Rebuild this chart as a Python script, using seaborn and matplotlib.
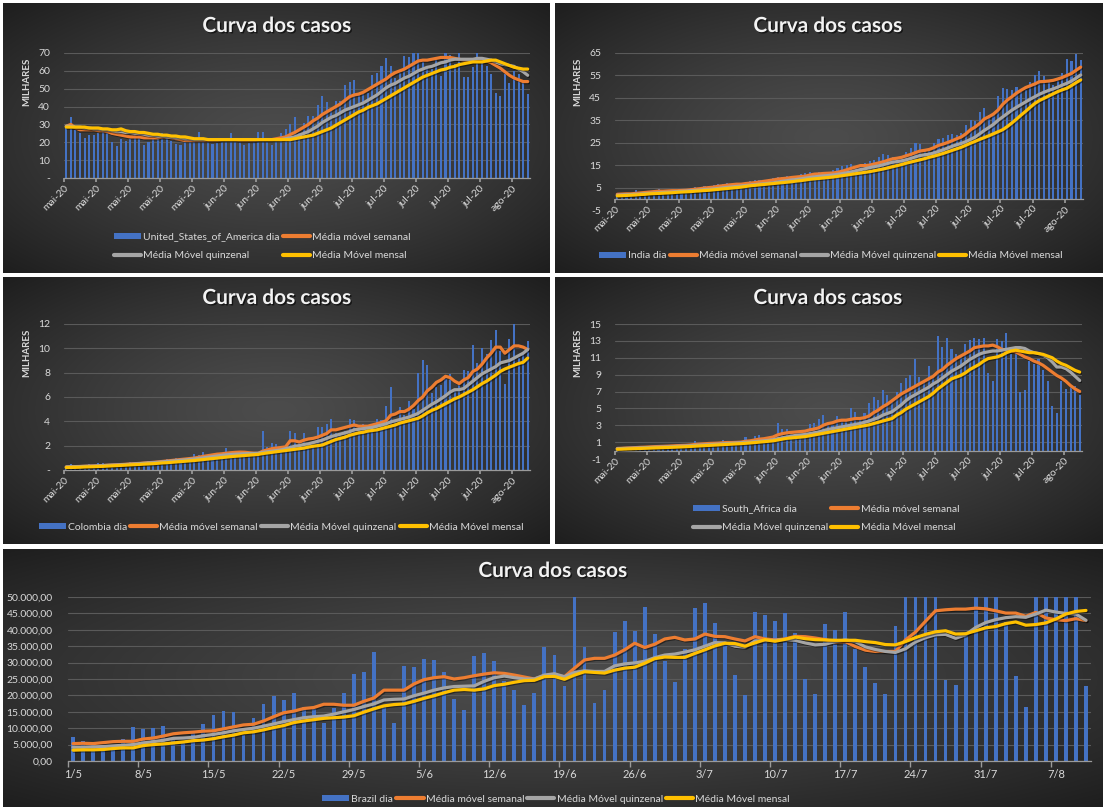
import numpy as np
import matplotlib
matplotlib.use("Agg")
import matplotlib.pyplot as plt
import seaborn as sns
from matplotlib.patches import Patch
from matplotlib.lines import Line2D
import matplotlib.patheffects as pe

# ---------------- DATA ----------------
days = list(range(102))  # 1/5 .. 10/8
top_xlabels = ['mai-20'] * 5 + ['jun-20'] * 4 + ['jul-20'] * 5 + ['ago-20']
brazil_xlabels = ['1/5', '8/5', '15/5', '22/5', '29/5', '5/6', '12/6', '19/6',
                  '26/6', '3/7', '10/7', '17/7', '24/7', '31/7', '7/8']
series_names = ['Média móvel semanal', 'Média Móvel quinzenal', 'Média Móvel mensal']

# USA (thousands)
usa_dia = [28, 34, 27, 25, 22.5, 24, 24, 25, 28, 25,
           20, 18, 22, 20.5, 22, 24, 25, 18.5, 20, 22,
           24, 25, 22, 21, 19, 18.5, 20, 21, 22, 25.5,
           21, 20, 19, 19.5, 20, 21.5, 25, 21, 20, 18.5,
           19.5, 21, 25.5, 25.5, 20, 18.5, 21, 25, 27.5, 30,
           34, 25, 31, 34.5, 35, 41, 46, 42.5, 38, 43,
           43, 52, 54, 55, 47, 47, 47.5, 57.5, 59, 63,
           67, 63, 56, 59, 68.5, 68, 72, 73, 65, 63,
           61, 66, 57, 75, 69, 64, 74, 56.5, 56.5, 62,
           71, 67, 63, 58.5, 47.5, 46, 58, 53, 60, 58,
           55, 47]
usa_sem = [29, 30, 28, 27, 27, 27, 27, 26.5, 26.5, 26,
           25, 24.5, 24, 23.5, 23, 23, 23, 22.5, 22.5, 22.5,
           22.5, 23, 23, 22.5, 22, 21.5, 21, 21, 21, 21,
           21, 21, 21, 21, 21.5, 21.5, 21.5, 21.5, 21, 21,
           21, 21, 21.5, 21.5, 21.5, 21.5, 22, 22.5, 23, 24.3,
           25.5, 27, 28.5, 30, 32, 33.5, 35.5, 37, 38.5, 40,
           41.5, 43.5, 45.5, 46.5, 47, 48, 49.5, 51, 52.5, 54,
           55.5, 57.5, 59, 60, 61, 62.5, 64, 65.5, 66, 66,
           66.5, 67, 67.5, 67.5, 67.5, 67, 66.5, 66, 66, 65.5,
           65.5, 66, 65.5, 64.5, 63, 61.5, 59.5, 57.5, 56, 55,
           54, 54]
usa_quin = [29, 29, 28.5, 28.5, 28, 28, 27.5, 27.5, 27, 27,
            26.5, 26, 26, 25.5, 25.5, 25, 25, 24.5, 24, 24,
            23.5, 23.5, 23, 23, 22.5, 22.5, 22, 22, 21.5, 21.5,
            21.5, 21.5, 21.5, 21.5, 21.5, 21.5, 21.5, 21.5, 21.5, 21.5,
            21.5, 21.5, 21.5, 21.5, 21.5, 21.5, 21.5, 21.5, 22, 22.5,
            23, 24, 25, 26, 27.5, 29, 31, 32.5, 34, 35,
            36.5, 38, 39, 40, 41, 42, 43.5, 45, 46.5, 48.5,
            50.5, 52, 53, 54.5, 56, 57, 58.5, 60, 61, 62,
            62.5, 63.5, 64.5, 65, 66, 66.5, 66.5, 66.5, 66.5, 66.5,
            67, 67, 66.5, 66, 65, 64, 63.5, 63, 62.5, 61,
            59.5, 57.5]
usa_mens = [28.5, 28.5, 28.5, 28.5, 28.5, 28, 28, 28, 27.5, 27.5,
            27, 27, 27.5, 26.5, 26, 26, 25.5, 25.5, 25, 24.5,
            24.5, 24, 24, 23.5, 23.5, 23, 23, 22.5, 22, 22,
            22, 21.5, 21.5, 21.5, 21.5, 21.5, 21.5, 21.5, 21.5, 21.5,
            21.5, 21.5, 21.5, 21.5, 21.5, 21.5, 21.5, 21.5, 21.5, 21.5,
            22, 22.5, 23, 23.5, 24, 25, 26, 27, 28, 29.5,
            31, 32.5, 34, 35.5, 37, 38, 39.5, 40.5, 41.5, 43,
            44.5, 46, 47.5, 49, 50.5, 52, 53.5, 55, 56.5, 57.5,
            58.5, 59.5, 60.5, 61, 62, 62.5, 63.5, 64, 64.5, 65,
            65, 65, 65.5, 66, 66, 65, 64, 63, 62, 61.5,
            61, 61]

# India (thousands)
india_dia = [1.99, 2.29, 2.64, 2.55, 3.90, 2.96, 3.56, 3.39, 3.32, 4.21,
             3.60, 3.60, 3.52, 3.72, 3.97, 3.97, 4.99, 5.24, 4.97, 5.61,
             5.61, 6.09, 6.65, 6.77, 7.00, 6.54, 6.39, 6.57, 7.47, 7.96,
             8.38, 8.39, 8.17, 8.91, 9.30, 9.85, 9.89, 9.98, 9.97, 9.99,
             10.96, 11.46, 11.93, 11.50, 11.93, 10.67, 11.00, 12.88, 13.59, 14.52,
             14.93, 15.41, 14.82, 14.93, 15.97, 16.92, 17.30, 18.55, 19.91, 19.46,
             18.65, 18.65, 19.15, 20.90, 22.77, 24.85, 24.25, 22.25, 22.75, 24.88,
             26.51, 27.11, 28.64, 28.70, 28.50, 29.43, 32.70, 34.96, 34.88, 38.90,
             40.42, 37.15, 37.72, 45.72, 49.31, 48.92, 48.66, 49.93, 47.70, 48.51,
             52.12, 55.08, 57.12, 54.74, 52.97, 50.63, 52.51, 56.28, 62.54, 61.54,
             64.40, 62.06]
india_sem = [2.0, 2.1, 2.2, 2.2, 2.4, 2.6, 2.8, 3.0, 3.2, 3.4,
             3.4, 3.5, 3.6, 3.6, 3.7, 3.8, 4.0, 4.3, 4.5, 4.8,
             5.0, 5.2, 5.6, 5.8, 6.1, 6.3, 6.5, 6.5, 6.8, 7.0,
             7.2, 7.5, 7.8, 8.1, 8.4, 8.8, 9.0, 9.2, 9.5, 9.7,
             9.9, 10.1, 10.6, 11.0, 11.1, 11.3, 11.4, 11.5, 11.8, 12.3,
             12.9, 13.6, 14.2, 14.8, 14.8, 15.0, 15.5, 16.0, 16.5, 17.2,
             17.8, 18.1, 18.5, 19.2, 19.8, 20.6, 21.3, 21.6, 22.0, 22.8,
             23.8, 24.4, 25.1, 25.9, 26.8, 27.6, 29.0, 30.8, 32.0, 33.6,
             35.6, 36.6, 37.8, 39.6, 42.1, 44.0, 45.5, 47.1, 48.4, 49.6,
             50.4, 51.2, 52.2, 52.3, 52.5, 52.8, 53.4, 54.1, 55.0, 55.9,
             57.3, 58.7]
india_quin = [1.6, 1.7, 1.8, 1.9, 2.0, 2.1, 2.3, 2.4, 2.5, 2.7,
              2.8, 2.9, 3.0, 3.2, 3.3, 3.4, 3.6, 3.7, 3.9, 4.1,
              4.2, 4.4, 4.6, 4.9, 5.1, 5.3, 5.5, 5.7, 5.9, 6.1,
              6.3, 6.5, 6.7, 6.9, 7.1, 7.5, 7.8, 8.1, 8.4, 8.6,
              8.9, 9.2, 9.5, 9.8, 10.0, 10.2, 10.4, 10.6, 10.9, 11.2,
              11.6, 12.0, 12.5, 13.0, 13.4, 13.9, 14.3, 14.7, 15.2, 15.8,
              16.3, 16.6, 16.9, 17.4, 18.0, 18.7, 19.3, 19.6, 19.9, 20.4,
              21.1, 21.8, 22.6, 23.4, 24.1, 24.7, 25.5, 26.5, 27.5, 29.0,
              30.5, 31.8, 33.2, 35.0, 36.5, 38.0, 39.5, 40.8, 42.0, 43.2,
              44.4, 45.5, 46.6, 47.5, 48.3, 49.0, 49.8, 50.7, 51.5, 52.5,
              53.8, 55.2]
india_mens = [1.3, 1.4, 1.5, 1.6, 1.7, 1.9, 2.0, 2.2, 2.3, 2.4,
              2.5, 2.6, 2.7, 2.9, 3.0, 3.1, 3.2, 3.4, 3.5, 3.7,
              3.8, 4.0, 4.2, 4.4, 4.6, 4.8, 5.0, 5.2, 5.5, 5.8,
              6.0, 6.2, 6.4, 6.6, 6.8, 7.0, 7.2, 7.4, 7.6, 7.9,
              8.1, 8.4, 8.7, 8.9, 9.1, 9.3, 9.5, 9.7, 10.0, 10.3,
              10.6, 10.9, 11.2, 11.5, 11.8, 12.1, 12.5, 12.9, 13.3, 13.8,
              14.3, 14.8, 15.3, 15.9, 16.4, 16.9, 17.4, 17.9, 18.5, 19.0,
              19.6, 20.2, 20.9, 21.6, 22.3, 23.0, 23.9, 24.8, 25.6, 26.5,
              27.3, 28.1, 29.0, 29.9, 30.8, 32.2, 33.8, 35.5, 37.3, 39.0,
              40.8, 42.5, 43.8, 44.8, 45.8, 46.8, 47.8, 48.6, 49.3, 50.5,
              51.8, 53.0]

# Colombia (thousands)
col_dia = [0.35, 0.5, 0.4, 0.25, 0.3, 0.5, 0.45, 0.55, 0.6, 0.45,
           0.35, 0.4, 0.55, 0.6, 0.65, 0.55, 0.4, 0.6, 0.75, 0.7,
           0.65, 0.8, 0.9, 0.8, 1.0, 0.9, 0.95, 1.05, 1.3, 1.2,
           1.5, 1.15, 1.3, 1.4, 1.35, 1.8, 1.4, 1.35, 1.5, 1.3,
           1.2, 1.45, 1.25, 3.2, 1.9, 2.2, 2.1, 1.8, 1.6, 3.2,
           3.0, 2.2, 3.0, 2.1, 2.0, 3.5, 3.5, 3.8, 4.2, 3.0,
           2.9, 3.2, 4.2, 4.1, 3.3, 3.8, 3.5, 3.8, 4.2, 4.1,
           5.3, 6.8, 4.0, 5.2, 4.5, 5.7, 5.0, 8.0, 9.0, 8.6,
           6.3, 6.8, 7.0, 7.5, 7.9, 6.5, 7.2, 8.2, 8.1, 10.3,
           8.8, 10.0, 9.5, 10.7, 11.5, 9.8, 7.1, 10.8, 12.0, 9.2,
           9.5, 10.6]
col_sem = [0.25, 0.27, 0.28, 0.29, 0.3, 0.32, 0.33, 0.35, 0.37, 0.39,
           0.41, 0.43, 0.45, 0.47, 0.5, 0.52, 0.54, 0.57, 0.6, 0.63,
           0.66, 0.7, 0.74, 0.78, 0.82, 0.86, 0.9, 0.94, 0.98, 1.05,
           1.12, 1.18, 1.24, 1.3, 1.33, 1.38, 1.42, 1.45, 1.47, 1.46,
           1.42, 1.38, 1.36, 1.55, 1.65, 1.75, 1.8, 1.85, 1.9, 2.4,
           2.4, 2.3, 2.45, 2.55, 2.6, 2.7, 2.85, 3.0, 3.3, 3.3,
           3.4, 3.5, 3.6, 3.7, 3.6, 3.6, 3.6, 3.7, 3.8, 3.9,
           4.05, 4.5, 4.6, 4.8, 4.8, 5.0, 5.3, 5.7, 6.0, 6.5,
           6.8, 7.2, 7.4, 7.7, 7.6, 7.3, 7.1, 7.4, 7.6, 8.1,
           8.3, 8.7, 9.2, 9.6, 10.1, 10.1, 9.6, 9.9, 10.2, 10.2,
           10.1, 9.9]
col_quin = [0.25, 0.26, 0.27, 0.28, 0.3, 0.31, 0.32, 0.34, 0.36, 0.38,
            0.4, 0.41, 0.43, 0.45, 0.47, 0.5, 0.52, 0.55, 0.58, 0.6,
            0.63, 0.66, 0.7, 0.73, 0.76, 0.8, 0.83, 0.87, 0.9, 0.95,
            1.0, 1.05, 1.1, 1.15, 1.2, 1.25, 1.28, 1.3, 1.32, 1.34,
            1.35, 1.36, 1.38, 1.45, 1.5, 1.55, 1.6, 1.65, 1.75, 1.85,
            1.95, 2.0, 2.1, 2.15, 2.25, 2.35, 2.45, 2.6, 2.75, 2.85,
            2.95, 3.05, 3.15, 3.3, 3.35, 3.4, 3.45, 3.5, 3.6, 3.7,
            3.8, 3.95, 4.05, 4.15, 4.25, 4.35, 4.5, 4.65, 4.9, 5.15,
            5.4, 5.6, 5.85, 6.1, 6.4, 6.6, 6.6, 6.7, 7.0, 7.3,
            7.6, 7.9, 8.1, 8.3, 8.5, 8.8, 8.9, 9.0, 9.2, 9.4,
            9.6, 9.9]
col_mens = [0.2, 0.21, 0.22, 0.23, 0.25, 0.26, 0.27, 0.29, 0.3, 0.32,
            0.34, 0.36, 0.38, 0.4, 0.42, 0.44, 0.46, 0.48, 0.5, 0.52,
            0.55, 0.58, 0.6, 0.63, 0.66, 0.69, 0.72, 0.75, 0.78, 0.82,
            0.86, 0.9, 0.94, 0.98, 1.02, 1.06, 1.1, 1.13, 1.16, 1.19,
            1.22, 1.25, 1.28, 1.35, 1.4, 1.45, 1.5, 1.55, 1.6, 1.65,
            1.7, 1.75, 1.8, 1.88, 1.95, 2.0, 2.05, 2.2, 2.35, 2.5,
            2.6, 2.7, 2.85, 2.95, 3.05, 3.1, 3.2, 3.25, 3.3, 3.4,
            3.5, 3.6, 3.7, 3.85, 3.95, 4.05, 4.15, 4.25, 4.45, 4.7,
            4.9, 5.05, 5.25, 5.45, 5.65, 5.85, 6.0, 6.2, 6.4, 6.6,
            6.85, 7.1, 7.3, 7.55, 7.8, 8.1, 8.3, 8.45, 8.6, 8.75,
            8.85, 9.2]

# South Africa (thousands)
sa_dia = [0.35, 0.4, 0.45, 0.3, 0.35, 0.45, 0.5, 0.45, 0.6, 0.55,
          0.6, 0.55, 0.7, 0.6, 0.6, 0.7, 0.8, 1.1, 0.8, 0.75,
          0.9, 1.0, 0.95, 1.2, 1.0, 0.9, 0.95, 1.1, 1.6, 1.25,
          1.7, 1.8, 1.5, 1.6, 1.7, 3.3, 2.6, 2.5, 2.1, 1.9,
          2.0, 2.4, 3.2, 3.3, 3.7, 4.2, 3.2, 3.0, 4.1, 3.6,
          3.6, 5.0, 4.6, 3.9, 4.4, 5.6, 6.4, 6.0, 7.2, 6.6,
          5.7, 6.9, 8.0, 8.6, 9.0, 10.8, 8.7, 8.4, 10.0, 8.8,
          13.6, 12.3, 13.4, 12.0, 11.5, 11.1, 12.6, 13.1, 13.3, 13.2,
          13.4, 9.2, 8.2, 13.2, 13.0, 13.9, 11.5, 11.6, 7.0, 7.2,
          10.6, 10.3, 10.9, 9.6, 8.2, 5.3, 4.5, 8.3, 7.3, 7.8,
          7.6, 6.6]
sa_sem = [0.25, 0.27, 0.3, 0.32, 0.35, 0.38, 0.4, 0.43, 0.46, 0.48,
          0.5, 0.52, 0.55, 0.58, 0.6, 0.62, 0.66, 0.72, 0.76, 0.8,
          0.84, 0.86, 0.88, 0.92, 0.95, 0.95, 0.97, 1.0, 1.1, 1.15,
          1.25, 1.35, 1.4, 1.5, 1.6, 1.85, 2.0, 2.1, 2.15, 2.2,
          2.25, 2.3, 2.45, 2.55, 2.7, 3.0, 3.2, 3.3, 3.5, 3.6,
          3.6, 3.7, 3.8, 3.8, 3.9, 4.1, 4.5, 4.8, 5.2, 5.5,
          5.9, 6.3, 6.7, 7.0, 7.3, 7.6, 7.9, 8.2, 8.5, 8.8,
          9.3, 9.6, 10.1, 10.5, 10.9, 11.2, 11.5, 11.8, 12.2, 12.3,
          12.4, 12.4, 12.5, 12.3, 12.0, 11.9, 11.8, 11.7, 11.4, 11.1,
          10.9, 10.6, 10.4, 10.1, 9.7, 9.3, 8.9, 8.6, 8.2, 7.7,
          7.3, 7.0]
sa_quin = [0.22, 0.24, 0.26, 0.28, 0.3, 0.32, 0.34, 0.36, 0.38, 0.4,
           0.42, 0.44, 0.46, 0.49, 0.52, 0.55, 0.58, 0.61, 0.64, 0.67,
           0.7, 0.73, 0.76, 0.8, 0.83, 0.86, 0.9, 0.93, 0.97, 1.0,
           1.05, 1.1, 1.15, 1.2, 1.28, 1.4, 1.5, 1.6, 1.7, 1.8,
           1.85, 1.9, 2.0, 2.1, 2.2, 2.35, 2.5, 2.6, 2.7, 2.8,
           2.9, 3.0, 3.1, 3.2, 3.35, 3.5, 3.7, 3.9, 4.2, 4.4,
           4.6, 5.0, 5.4, 5.9, 6.3, 6.6, 6.9, 7.2, 7.5, 7.9,
           8.2, 8.6, 9.0, 9.4, 9.7, 10.0, 10.4, 10.8, 11.1, 11.4,
           11.6, 11.7, 11.8, 11.8, 11.9, 12.0, 12.1, 12.2, 12.2, 12.1,
           11.8, 11.6, 11.5, 11.3, 11.0, 10.5, 9.9, 9.9, 9.7, 9.3,
           8.8, 8.3]
sa_mens = [0.15, 0.17, 0.19, 0.21, 0.23, 0.25, 0.27, 0.29, 0.31, 0.33,
           0.35, 0.37, 0.39, 0.41, 0.43, 0.46, 0.49, 0.52, 0.55, 0.58,
           0.61, 0.64, 0.67, 0.7, 0.73, 0.76, 0.79, 0.82, 0.86, 0.9,
           0.95, 1.0, 1.05, 1.1, 1.15, 1.25, 1.35, 1.45, 1.5, 1.55,
           1.6, 1.65, 1.75, 1.85, 1.95, 2.05, 2.15, 2.25, 2.35, 2.45,
           2.55, 2.65, 2.75, 2.85, 2.95, 3.05, 3.2, 3.35, 3.5, 3.65,
           3.8, 4.2, 4.5, 4.9, 5.2, 5.5, 5.8, 6.1, 6.4, 6.8,
           7.3, 7.7, 8.1, 8.5, 8.7, 8.9, 9.2, 9.6, 9.9, 10.2,
           10.6, 10.9, 11.0, 11.1, 11.3, 11.6, 11.8, 11.9, 11.8, 11.7,
           11.6, 11.6, 11.5, 11.4, 11.2, 11.0, 10.6, 10.3, 10.1, 9.8,
           9.5, 9.3]

# Brazil (cases)
bra_dia = [7200, 6200, 4800, 4000, 4200, 6800, 10500, 9900, 10200, 10600,
           6600, 5600, 8600, 11400, 13900, 15300, 14900, 7900, 13100, 17400,
           19900, 18500, 20800, 16500, 15800, 11700, 16300, 20600, 26400, 27000,
           33300, 16400, 11600, 28900, 28600, 31000, 30800, 27100, 19000, 15700,
           32100, 32900, 30400, 24400, 21700, 17100, 20600, 34900, 32200, 22900,
           54800, 34800, 17700, 21600, 39300, 42800, 39700, 47000, 38800, 30500,
           24100, 34200, 46600, 48300, 42000, 35400, 26200, 20200, 45400, 44600,
           42800, 45100, 39000, 25000, 20300, 41700, 40000, 45400, 34100, 28700,
           23800, 20400, 41200, 60000, 67900, 55900, 51100, 24600, 23300, 38500,
           69100, 57800, 52400, 42500, 25800, 16600, 51600, 57200, 53100, 50200,
           50000, 23000]
bra_sem = [5300, 5400, 5300, 5600, 5900, 6000, 6000, 6700, 7000, 7600,
           8300, 8600, 8800, 9100, 9200, 9800, 10400, 11000, 11200, 12200,
           13500, 14700, 15200, 16000, 16300, 17300, 17300, 17000, 17000, 18200,
           19200, 21600, 21600, 21600, 23500, 24800, 25400, 25700, 25000, 25400,
           26000, 26500, 26900, 26700, 26200, 25600, 25000, 26000, 26200, 25700,
           28300, 30800, 31300, 31300, 32300, 33900, 35900, 34600, 35600, 37200,
           37700, 36900, 37200, 38700, 38000, 37900, 37200, 36600, 37900, 37200,
           36900, 37200, 38000, 37900, 37500, 37000, 36200, 36400, 34900, 33800,
           33400, 33400, 33400, 36900, 39300, 42600, 45800, 46100, 46300, 46300,
           46600, 46400, 45800, 45100, 45100, 44100, 45300, 43600, 43100, 42800,
           43400, 42800]
bra_quin = [4200, 4200, 4300, 4400, 4600, 4800, 5000, 5500, 5900, 6300,
            6900, 7000, 7200, 7700, 8100, 8600, 9200, 9600, 10000, 10600,
            11300, 12000, 12600, 13200, 13500, 13700, 14300, 15000, 15700, 16600,
            17400, 18600, 18800, 18900, 19900, 20700, 21600, 22300, 22700, 22800,
            22900, 24300, 25400, 25900, 25400, 25000, 25000, 26200, 26600, 25700,
            27000, 27500, 27300, 27300, 29000, 29600, 29900, 30400, 31500, 32300,
            32600, 33200, 33900, 35000, 36100, 36000, 35000, 34700, 36600, 36700,
            36800, 37000, 36800, 36000, 35400, 35600, 36400, 36900, 36400, 34800,
            34000, 33400, 33100, 34200, 36300, 37600, 38500, 38600, 37400, 38500,
            40700, 42200, 43100, 43700, 44000, 43800, 44800, 46000, 45400, 45000,
            44800, 42900]
bra_mens = [3300, 3400, 3400, 3500, 3800, 4000, 4000, 4700, 5000, 5200,
            5500, 5800, 6200, 6400, 6800, 7400, 7900, 8600, 8900, 9500,
            10200, 10800, 11700, 12200, 12600, 13000, 13200, 13400, 13800, 14900,
            15900, 16800, 17200, 17400, 18200, 19100, 19900, 20800, 21600, 21800,
            21600, 22000, 23000, 23400, 24000, 24500, 24600, 25700, 25800, 24900,
            26200, 27200, 27000, 26800, 27700, 28300, 28600, 29800, 31200, 31700,
            31600, 31600, 32800, 33900, 35100, 35900, 35800, 35000, 36000, 37000,
            36500, 37100, 37800, 37300, 37000, 36900, 36800, 36800, 36800, 36400,
            36100, 35500, 35400, 36400, 37600, 38600, 39400, 39700, 38700, 38800,
            39700, 40600, 41000, 41900, 42400, 41400, 41600, 42100, 43300, 44800,
            45600, 45900]

# ---------------- STYLE ----------------
sns.set_theme(style="dark")
plt.rcParams['font.family'] = ['Lato', 'DejaVu Sans']

W, H = 1105, 807
fig = plt.figure(figsize=(W / 100, H / 100), dpi=100, facecolor='white')

BLUE = '#4472C4'
ORANGE = '#ED7D31'
GREY = '#A5A5A5'
YELLOW = '#FFC000'
TXT = '#D9D9D9'
GRID = '#5A5A5A'
AXC = '#9A9A9A'

LINE_FX = [pe.SimpleLineShadow(offset=(0.8, -0.8), shadow_color='black',
                               alpha=0.45), pe.Normal()]


def frac(l, t, r, b):
    return [l / W, 1 - b / H, (r - l) / W, (b - t) / H]


def add_bg(l, t, r, b):
    ax = fig.add_axes(frac(l, t, r, b), zorder=0)
    ny = 150
    nx = int(ny * (r - l) / (b - t))
    yy, xx = np.mgrid[-1:1:ny * 1j, -1:1:nx * 1j]
    rr = np.clip(np.sqrt(xx ** 2 + yy ** 2) / np.sqrt(2), 0, 1)
    c0 = np.array([0x4c, 0x4c, 0x4c]) / 255
    c1 = np.array([0x1e, 0x1e, 0x1e]) / 255
    img = c0 + (c1 - c0) * (rr[..., None] ** 1.3)
    ax.imshow(img, aspect='auto', interpolation='bilinear')
    ax.set_axis_off()


def panel(bg, plot, title_xy, dia, sem, quin, mens, ylim, yticks, yticklabels,
          bar_label, leg_xy, leg_ncol, milhares_xy=None, zero_axis=False,
          brazil=False, bar_width=0.45):
    add_bg(*bg)
    ax = fig.add_axes(frac(*plot), zorder=1)
    ax.set_facecolor('none')
    sns.barplot(x=days, y=dia, ax=ax, color=BLUE, native_scale=True,
                width=bar_width, saturation=1, errorbar=None, linewidth=0,
                zorder=2)
    for ys, c in ((sem, ORANGE), (quin, GREY), (mens, YELLOW)):
        sns.lineplot(x=days, y=ys, ax=ax, color=c, linewidth=2.3,
                     legend=False, zorder=3, path_effects=LINE_FX)
    ax.set_xlim(-0.5, 101.5)
    ax.set_ylim(*ylim)
    ax.set_yticks(yticks)
    ax.set_yticklabels(yticklabels)
    ax.grid(axis='y', color=GRID, lw=0.8)
    ax.grid(axis='x', visible=False)
    ax.set_axisbelow(True)
    for s in ['top', 'right', 'left']:
        ax.spines[s].set_visible(False)
    ax.spines['bottom'].set_visible(True)
    ax.spines['bottom'].set_color(AXC)
    ax.spines['bottom'].set_linewidth(0.9)
    if zero_axis:
        ax.spines['bottom'].set_position(('data', 0))
    ax.tick_params(axis='y', length=0, labelcolor=TXT, labelsize=7.5,
                   pad=10 if not brazil else 11)
    ticks = [7 * k - 0.5 for k in range(15)]
    if brazil:
        ax.set_xticks([7 * k for k in range(15)])
        ax.set_xticklabels(brazil_xlabels)
        ax.set_xticks(ticks, minor=True)
        ax.tick_params(axis='x', which='major', length=0, labelcolor=TXT,
                       labelsize=8, pad=6)
        ax.tick_params(axis='x', which='minor', length=4, color=AXC,
                       direction='out', bottom=True)
    else:
        ax.set_xticks(ticks)
        ax.set_xticklabels(top_xlabels, rotation=45, ha='right', va='top',
                           rotation_mode='anchor')
        ax.tick_params(axis='x', length=3, color=AXC, labelcolor=TXT,
                       labelsize=7.5, pad=1, direction='out', bottom=True)
    ax.set_xlabel('')
    ax.set_ylabel('')

    fig.text(title_xy[0] / W, 1 - title_xy[1] / H, 'Curva dos casos',
             ha='center', va='center', fontsize=15, fontweight='bold',
             color='#F2F2F2',
             path_effects=[pe.withSimplePatchShadow(offset=(1, -1),
                                                    shadow_rgbFace='black',
                                                    alpha=0.6)])
    if milhares_xy is not None:
        fig.text(milhares_xy[0] / W, 1 - milhares_xy[1] / H, 'MILHARES',
                 rotation=90, ha='center', va='center', fontsize=7,
                 fontweight='bold', color=TXT)

    bar_h = Patch(facecolor=BLUE, edgecolor='none')
    h_sem = Line2D([0], [0], color=ORANGE, lw=3)
    h_quin = Line2D([0], [0], color=GREY, lw=3)
    h_mens = Line2D([0], [0], color=YELLOW, lw=3)
    if leg_ncol == 2:
        handles = [bar_h, h_quin, h_sem, h_mens]
        labels = [bar_label, series_names[1], series_names[0], series_names[2]]
    else:
        handles = [bar_h, h_sem, h_quin, h_mens]
        labels = [bar_label] + series_names
    fig.legend(handles, labels, loc='center',
               bbox_to_anchor=(leg_xy[0] / W, 1 - leg_xy[1] / H),
               ncol=leg_ncol, frameon=False, fontsize=7.5, labelcolor=TXT,
               handlelength=2.6, handletextpad=0.2, columnspacing=0.3,
               labelspacing=0.95, handleheight=0.6, borderaxespad=0,
               borderpad=0)
    return ax


# Panel 1 - USA
panel((3, 3, 550, 273), (64, 53, 530, 178), (277, 26),
      usa_dia, usa_sem, usa_quin, usa_mens,
      (0, 70), [0, 10, 20, 30, 40, 50, 60, 70],
      ['-', '10', '20', '30', '40', '50', '60', '70'],
      'United_States_of_America dia', (262, 246.5), 2, milhares_xy=(27, 82))

# Panel 2 - India
panel((555, 3, 1103, 273), (615, 53, 1083, 210), (828, 26),
      india_dia, india_sem, india_quin, india_mens,
      (-5, 65), [-5, 5, 15, 25, 35, 45, 55, 65],
      ['-5', '5', '15', '25', '35', '45', '55', '65'],
      'India dia', (831, 256), 4, milhares_xy=(578, 82), zero_axis=True)

# Panel 3 - Colombia
panel((3, 277, 550, 544), (64, 324, 530, 470), (277, 298),
      col_dia, col_sem, col_quin, col_mens,
      (0, 12), [0, 2, 4, 6, 8, 10, 12],
      ['-', '2', '4', '6', '8', '10', '12'],
      'Colombia dia', (281, 527), 4, milhares_xy=(27, 353))

# Panel 4 - South Africa
panel((555, 277, 1103, 544), (615, 324, 1082, 459), (828, 298),
      sa_dia, sa_sem, sa_quin, sa_mens,
      (-1, 15), [-1, 1, 3, 5, 7, 9, 11, 13, 15],
      ['-1', '1', '3', '5', '7', '9', '11', '13', '15'],
      'South_Africa dia', (826, 518.5), 2, milhares_xy=(578, 353),
      zero_axis=True)

# Panel 5 - Brazil
bra_ticks = [0, 5000, 10000, 15000, 20000, 25000, 30000, 35000, 40000,
             45000, 50000]
bra_ticklabels = ['{:,.2f}'.format(v).replace(',', 'X').replace('.', ',')
                  .replace('X', '.') for v in bra_ticks]
panel((3, 549, 1103, 807), (68, 597, 1091, 761), (553, 571),
      bra_dia, bra_sem, bra_quin, bra_mens,
      (0, 50000), bra_ticks, bra_ticklabels,
      'Brazil dia', (556, 799), 4, brazil=True, bar_width=0.38)

fig.savefig('out.png', dpi=100, facecolor='white')
